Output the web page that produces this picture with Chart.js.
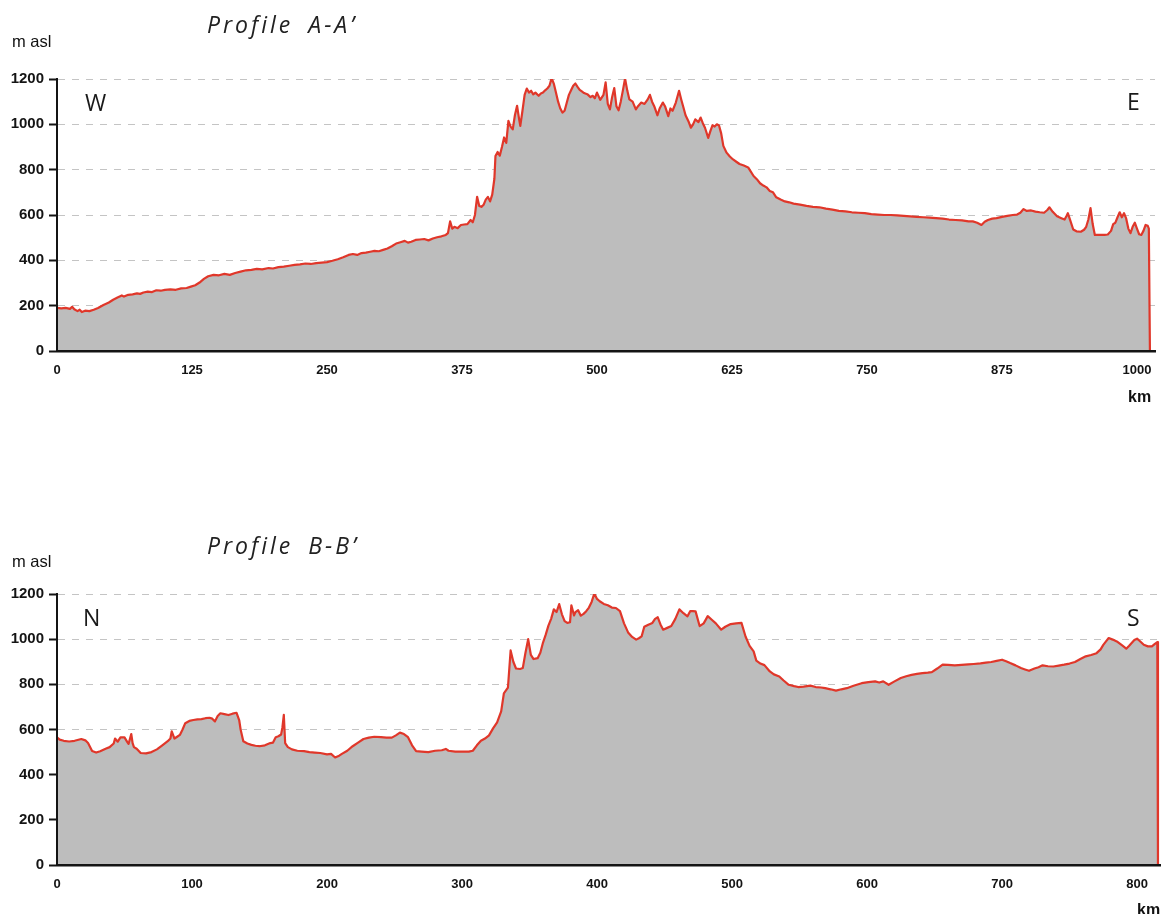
<!DOCTYPE html>
<html>
<head>
<meta charset="utf-8">
<title>Elevation profiles A-A’ and B-B’</title>
<script src="https://cdn.jsdelivr.net/npm/chart.js@4.4.1/dist/chart.umd.min.js"></script>
<style>
  html, body { margin: 0; padding: 0; background: #fff; }
  #wrap { position: relative; width: 1162px; height: 914px; overflow: hidden; background: #fff; }
  canvas { position: absolute; left: 0; }
  .lbl { position: absolute; white-space: nowrap; color: #1a1a1a; }
  .title { font-family: "Open Sans", sans-serif; font-style: italic; font-size: 23px; line-height: 23px; letter-spacing: 3px; word-spacing: 6px; color: #222; }
  .unit { font-family: "Liberation Sans", Arial, sans-serif; font-size: 16.5px; line-height: 16px; color: #111; }
  .dir { font-family: "Open Sans", sans-serif; font-size: 23px; line-height: 23px; color: #1a1a1a; }
  .km { font-family: "Liberation Sans", Arial, sans-serif; font-weight: bold; font-size: 16px; line-height: 16px; color: #111; }
</style>
</head>
<body>
<div id="wrap">
  <canvas id="profileA" width="1162" height="440" style="top:0px"></canvas>
  <canvas id="profileB" width="1162" height="474" style="top:440px"></canvas>

  <span class="lbl title" style="left:207px; top:13px;">Profile A-A’</span>
  <span class="lbl unit" style="left:12px; top:33px;">m asl</span>
  <span class="lbl dir" style="left:85px; top:91px;">W</span>
  <span class="lbl dir" style="left:1127px; top:90px;">E</span>
  <span class="lbl km" style="left:1128px; top:389px;">km</span>

  <span class="lbl title" style="left:207px; top:534px;">Profile B-B’</span>
  <span class="lbl unit" style="left:12px; top:553px;">m asl</span>
  <span class="lbl dir" style="left:83px; top:606px;">N</span>
  <span class="lbl dir" style="left:1127px; top:606px;">S</span>
  <span class="lbl km" style="left:1137px; top:902px;">km</span>
</div>

<script>
// Elevation axis ticks (metres above sea level)
const elevTicks = [0, 200, 400, 600, 800, 1000, 1200];

// Profile A-A' (W -> E): distance along the section (km) and elevation (m asl)
const kmTicksA = [0, 125, 250, 375, 500, 625, 750, 875, 1000];
const distA = [
  0, 4, 8, 12, 14, 16, 19, 21, 23, 26, 30, 34, 38, 43, 48, 52, 56, 60, 62, 66,
  70, 74, 77, 80, 84, 88, 92, 96, 100, 105, 110, 115, 120, 124, 128, 132, 136, 140, 145, 150,
  155, 160, 165, 170, 175, 180, 185, 190, 196, 200, 205, 210, 215, 220, 225, 230, 235, 240, 245, 250,
  255, 260, 265, 270, 274, 278, 282, 286, 290, 294, 298, 302, 306, 310, 314, 318, 322, 325, 328, 332,
  336, 340, 344, 348, 352, 356, 360, 362, 364, 366, 368, 371, 374, 377, 380, 383, 385, 387, 389, 391,
  393, 395, 397, 399, 401, 403, 405, 406, 408, 410, 412, 414, 416, 418, 420, 422, 424, 426, 428, 429,
  431, 433, 435, 437, 439, 441, 443, 446, 448, 450, 452, 454, 456, 458, 460, 462, 464, 466, 468, 470,
  472, 474, 476, 478, 480, 482, 484, 486, 488, 491, 494, 496, 498, 500, 503, 506, 508, 510, 512, 514,
  516, 518, 520, 522, 524, 526, 528, 530, 533, 536, 538, 541, 544, 547, 549, 551, 553, 556, 558, 561,
  563, 566, 568, 570, 573, 576, 578, 580, 582, 585, 587, 589, 591, 594, 596, 598, 600, 603, 605, 607,
  609, 611, 613, 615, 617, 620, 623, 626, 629, 632, 636, 640, 642, 645, 648, 651, 654, 657, 660, 663,
  666, 670, 674, 678, 682, 688, 694, 700, 706, 712, 718, 724, 730, 736, 742, 748, 754, 760, 766, 772,
  778, 784, 790, 796, 802, 808, 814, 820, 826, 832, 838, 844, 848, 852, 856, 859, 862, 866, 870, 875,
  880, 885, 889, 892, 895, 898, 902, 906, 910, 914, 917, 919, 922, 926, 930, 933, 935, 936, 938, 941,
  944, 948, 951, 953, 955, 957, 959, 961, 965, 970, 973, 976, 978, 980, 982, 984, 986, 988, 990, 992,
  994, 996, 998, 1000, 1002, 1004, 1006, 1008, 1010, 1011, 1012
];
const elevA = [
  190, 188, 190, 186, 195, 184, 176, 182, 172, 178, 176, 182, 190, 203, 214, 226, 236, 245, 240, 248,
  250, 254, 252, 258, 262, 260, 268, 266, 270, 272, 270, 276, 278, 284, 290, 302, 318, 330, 336, 334,
  340, 336, 344, 350, 356, 358, 362, 360, 366, 364, 370, 372, 376, 380, 382, 386, 384, 388, 390, 392,
  398, 405, 414, 424, 428, 424, 432, 434, 438, 442, 440, 446, 452, 462, 474, 480, 486, 478, 482, 490,
  492, 494, 488, 496, 502, 506, 512, 520, 572, 540, 548, 542, 556, 558, 560, 578, 568, 600, 680, 640,
  636, 645, 668, 680, 660, 690, 760, 860, 878, 862, 900, 942, 918, 1015, 990, 978, 1040, 1082, 1020, 993,
  1060, 1130, 1158, 1140, 1148, 1132, 1140, 1126, 1136, 1140, 1150, 1158, 1170, 1204, 1180, 1140, 1100, 1070, 1052, 1060,
  1095, 1130, 1150, 1170, 1180, 1165, 1152, 1145, 1138, 1133, 1120, 1126, 1115, 1140, 1108, 1130, 1185, 1090, 1066, 1120,
  1160, 1080, 1062, 1100, 1150, 1202, 1150, 1110, 1100, 1066, 1080, 1096, 1090, 1110, 1130, 1100, 1080, 1040, 1070, 1096,
  1080, 1036, 1070, 1060, 1096, 1148, 1110, 1075, 1040, 1010, 985, 1000, 1022, 1010, 1030, 1005, 985, 940, 970, 996,
  990, 1000, 995, 960, 905, 875, 858, 845, 835, 825, 818, 810, 795, 772, 758, 740, 730, 722, 706, 700,
  678, 668, 660, 656, 650, 646, 640, 636, 634, 628, 624, 618, 616, 612, 610, 608, 604, 602, 600, 600,
  598, 596, 594, 592, 590, 588, 586, 584, 580, 578, 576, 572, 572, 566, 556, 570, 578, 584, 586, 592,
  596, 600, 602, 610, 626, 618, 620, 615, 612, 610, 622, 634, 614, 594, 586, 580, 598, 608, 580, 536,
  528, 526, 535, 548, 580, 630, 560, 512, 512, 512, 514, 530, 560, 566, 590, 612, 590, 608, 585, 540,
  520, 548, 566, 540, 515, 512, 530, 556, 552, 540, 0
];

// Profile B-B' (N -> S): distance along the section (km) and elevation (m asl)
const kmTicksB = [0, 100, 200, 300, 400, 500, 600, 700, 800];
const distB = [
  0, 2, 5, 9, 13, 18, 21, 23, 26, 29, 32, 36, 39, 42, 43, 45, 47, 50, 52, 53,
  55, 56, 57, 59, 62, 66, 70, 74, 78, 82, 84, 85, 87, 89, 91, 93, 95, 98, 101, 104,
  107, 110, 113, 115, 117, 119, 121, 124, 127, 130, 133, 135, 136, 138, 141, 144, 147, 150, 154, 158,
  160, 162, 164, 166, 167, 168, 169, 171, 174, 178, 183, 187, 191, 195, 200, 203, 206, 209, 211, 215,
  219, 223, 227, 231, 235, 240, 244, 248, 251, 254, 257, 260, 263, 266, 270, 275, 280, 285, 288, 290,
  295, 300, 305, 308, 311, 314, 317, 320, 323, 326, 329, 331, 334, 336, 338, 340, 343, 345, 347, 349,
  351, 353, 356, 358, 360, 362, 364, 366, 368, 370, 372, 374, 376, 378, 380, 381, 383, 384, 386, 388,
  390, 392, 394, 396, 398, 400, 402, 405, 408, 411, 414, 417, 420, 423, 426, 429, 431, 433, 435, 438,
  441, 443, 445, 447, 449, 452, 455, 458, 461, 464, 467, 469, 471, 473, 476, 479, 482, 485, 488, 492,
  495, 499, 503, 507, 510, 513, 516, 518, 521, 524, 528, 531, 535, 538, 542, 546, 549, 553, 558, 562,
  566, 569, 573, 577, 581, 585, 590, 596, 601, 606, 609, 612, 616, 620, 625, 629, 633, 637, 641, 645,
  648, 652, 656, 660, 665, 670, 675, 679, 684, 688, 692, 696, 700, 703, 706, 710, 714, 717, 720, 724,
  727, 730, 734, 738, 742, 746, 750, 754, 758, 762, 766, 770, 773, 775, 777, 779, 782, 785, 789, 792,
  794, 796, 798, 800, 802, 805, 808, 811, 813, 815, 815.5
];
const elevB = [
  565, 555, 550, 547, 550, 558, 552, 540, 505, 498, 504, 515, 522, 538, 560, 546, 565, 565, 545, 536,
  580, 540, 522, 515, 496, 494, 500, 512, 530, 548, 560, 592, 560, 568, 576, 600, 628, 638, 642, 645,
  646, 650, 652, 648, 636, 660, 672, 668, 664, 670, 674, 640, 600, 548, 538, 532, 528, 526, 530, 540,
  542, 566, 570, 578, 610, 665, 540, 522, 512, 506, 504, 500, 498, 496, 490, 492, 476, 484, 492, 506,
  526, 542, 558, 564, 568, 566, 564, 564, 574, 586, 580, 566, 530, 504, 502, 500, 506, 508, 514, 506,
  502, 502, 502, 506, 530, 550, 560, 574, 605, 632, 680, 760, 785, 950, 900, 870, 868, 872, 940, 1000,
  930, 912, 916, 940, 985, 1020, 1060, 1090, 1132, 1120, 1155, 1110, 1080, 1072, 1075, 1150, 1105, 1120, 1128, 1104,
  1112, 1124, 1140, 1165, 1202, 1178, 1168, 1156, 1150, 1140, 1138, 1124, 1070, 1030, 1010, 998, 1004, 1012, 1055, 1064,
  1072, 1090, 1097, 1065, 1042, 1050, 1058, 1090, 1132, 1115, 1101, 1124, 1124, 1123, 1058, 1070, 1102, 1086, 1070, 1042,
  1055, 1067, 1070, 1072, 1012, 970, 946, 905, 892, 885, 857, 844, 835, 818, 798, 792, 788, 790, 794, 788,
  786, 783, 778, 772, 778, 783, 794, 805, 810, 813, 808, 813, 798, 812, 828, 836, 842, 846, 850, 852,
  854, 870, 887, 886, 884, 886, 888, 890, 893, 896, 899, 904, 909, 902, 894, 884, 872, 866, 860, 870,
  876, 884, 880, 879, 883, 887, 892, 899, 912, 924, 930, 938, 955, 975, 990, 1005, 998, 990, 972, 958,
  970, 983, 996, 1002, 992, 975, 968, 968, 978, 987, 0
];

const TICK_FONT = "'Liberation Sans', Arial, sans-serif";

function toPoints(xs, ys) {
  return xs.map((x, i) => ({ x: x, y: ys[i] }));
}

function profileChart(canvasId, xs, ys, kmTicks, kmMax, pad, axisHeight) {
  return new Chart(document.getElementById(canvasId), {
    type: 'line',
    data: {
      datasets: [{
        data: toPoints(xs, ys),
        borderColor: '#e0372a',
        borderWidth: 2.2,
        backgroundColor: '#bdbdbd',
        fill: 'origin',
        pointRadius: 0,
        tension: 0,
        borderJoinStyle: 'round'
      }]
    },
    options: {
      responsive: false,
      animation: false,
      devicePixelRatio: 1,
      layout: { padding: pad },
      plugins: { legend: { display: false }, tooltip: { enabled: false }, title: { display: false } },
      scales: {
        x: {
          type: 'linear',
          min: 0,
          max: kmMax,
          afterBuildTicks: s => { s.ticks = kmTicks.map(v => ({ value: v })); },
          afterFit: s => { s.height = axisHeight; },
          // invisible tick marks keep the labels clear of the axis line
          grid: { display: true, drawOnChartArea: false, drawTicks: true, tickLength: 9, tickColor: 'rgba(0,0,0,0)', color: 'rgba(0,0,0,0)' },
          border: { display: true, color: '#141414', width: 2.5, z: 1 },
          ticks: {
            color: '#141414',
            font: { family: TICK_FONT, size: 13, weight: 'bold' },
            padding: 3,
            maxRotation: 0,
            autoSkip: false,
            callback: v => String(v)
          }
        },
        y: {
          min: 0,
          max: 1200,
          afterBuildTicks: s => { s.ticks = elevTicks.map(v => ({ value: v })); },
          afterFit: s => { s.width = 57; },
          grid: {
            color: '#c4c4c4',
            lineWidth: 1,
            drawTicks: true,
            tickLength: 8,
            tickColor: '#141414',
            tickWidth: 2,
            tickBorderDash: []
          },
          border: { display: true, color: '#141414', width: 2, dash: [7, 7], z: 1 },
          ticks: {
            color: '#141414',
            font: { family: TICK_FONT, size: 15, weight: 'bold' },
            padding: 5,
            callback: v => String(v)
          }
        }
      }
    }
  });
}

profileChart('profileA', distA, elevA, kmTicksA, 1016.7, { top: 79, right: 7, bottom: 0, left: 0 }, 89);
profileChart('profileB', distB, elevB, kmTicksB, 817, { top: 154, right: 2, bottom: 0, left: 0 }, 49);
</script>
</body>
</html>
